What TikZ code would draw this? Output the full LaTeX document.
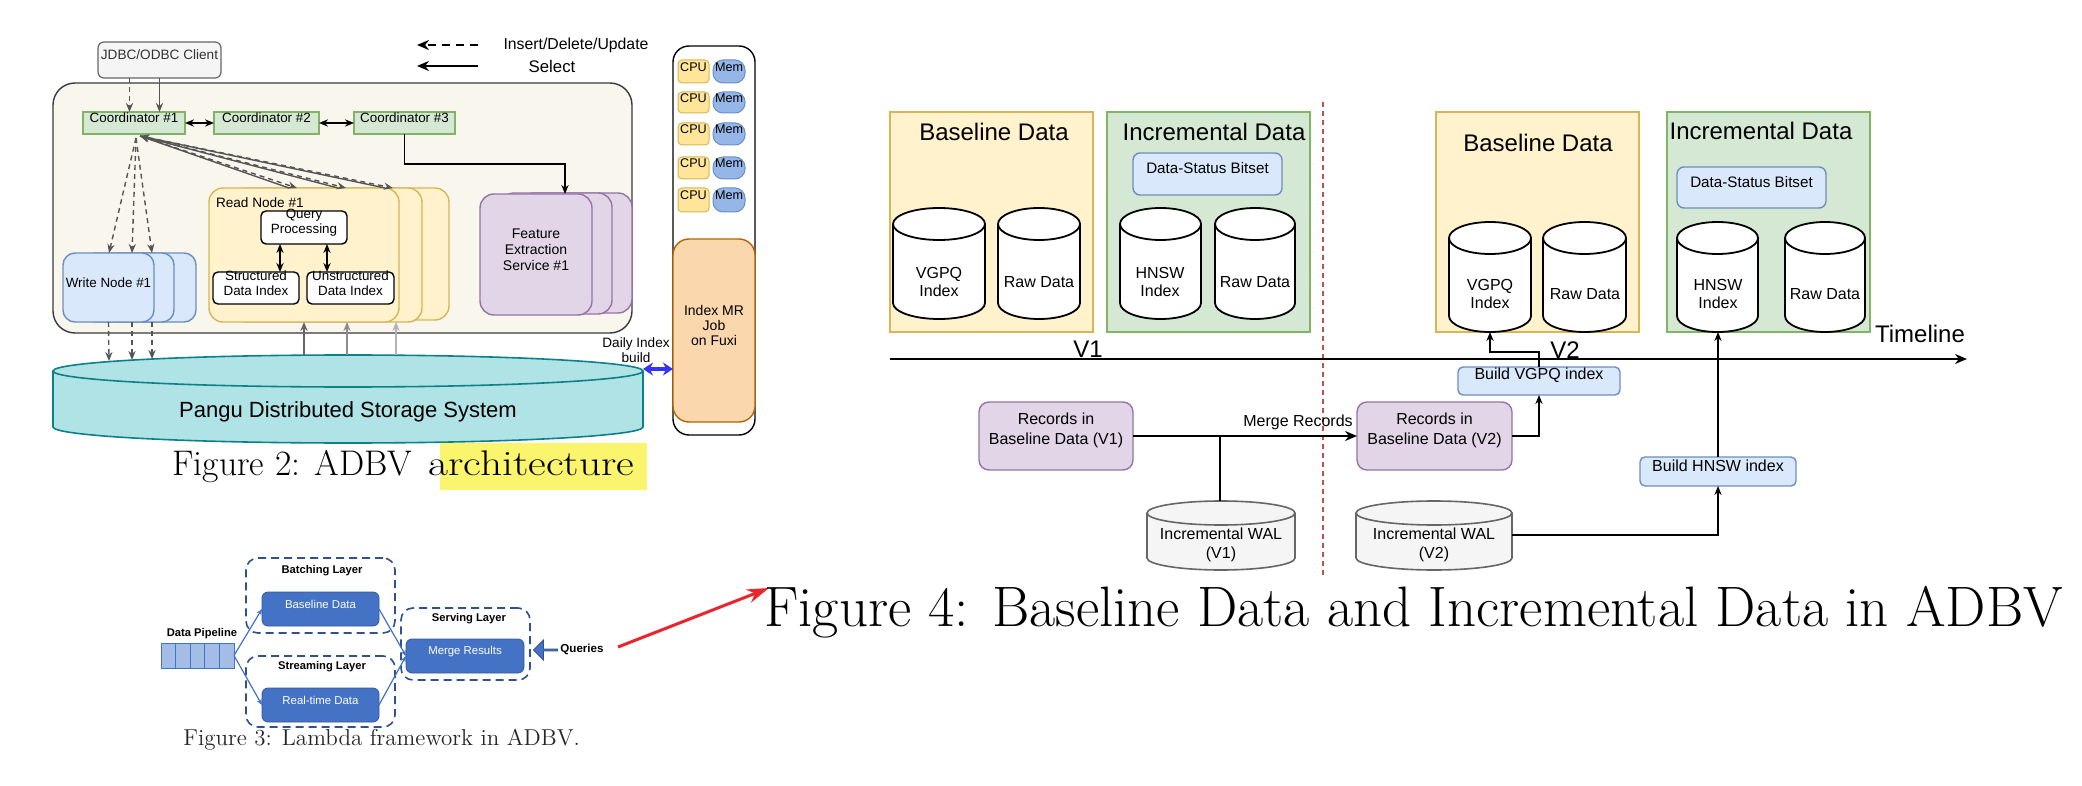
\documentclass[tikz,border=0pt]{standalone}
\usepackage{fontspec}
\newfontfamily\arialf{Liberation Sans}
\usetikzlibrary{arrows.meta,fit,shapes.arrows}
\definecolor{contF}{HTML}{F9F7ED}
\definecolor{contD}{HTML}{36393D}
\definecolor{grnF}{HTML}{D5E8D4}
\definecolor{grnD}{HTML}{82B366}
\definecolor{bluF}{HTML}{DAE8FC}
\definecolor{bluD}{HTML}{6C8EBF}
\definecolor{yelF}{HTML}{FFF2CC}
\definecolor{yelD}{HTML}{D6B656}
\definecolor{purF}{HTML}{E1D5E7}
\definecolor{purD}{HTML}{9673A6}
\definecolor{panF}{HTML}{B0E3E6}
\definecolor{panD}{HTML}{0E8088}
\definecolor{cpuF}{HTML}{FFE599}
\definecolor{memF}{HTML}{94B6E8}
\definecolor{orF}{HTML}{FAD7AC}
\definecolor{orD}{HTML}{B46504}
\definecolor{hlY}{HTML}{FBF46D}
\definecolor{gryF}{HTML}{F5F5F5}
\definecolor{gryD}{HTML}{666666}
\definecolor{lnG}{HTML}{555555}
\definecolor{lamB}{HTML}{4472C4}
\definecolor{lamD}{HTML}{2F528F}
\definecolor{pipF}{HTML}{A4BDE6}
\definecolor{redA}{HTML}{E8262C}
\definecolor{divR}{HTML}{B85450}
\definecolor{dblue}{HTML}{3333FF}
\newcommand\mkbox[7]{\node[#2,fit={(#3,#4) (#5,#6)}] (#1) {#7};}
\newcommand\mkcyl[6]{%
  \pgfmathsetlengthmacro\cylrx{(#3-#1)/4*1pt}%
  \pgfmathsetlengthmacro\cylry{(#5)/2*1pt}%
  \path[#6] (#1,#2+#5) -- (#1,#4-#5) arc[start angle=180,end angle=360,x radius=\cylrx,y radius=\cylry] -- (#3,#2+#5) arc[start angle=0,end angle=180,x radius=\cylrx,y radius=\cylry] -- cycle;
  \path[#6,fill=none] (#1,#2+#5) arc[start angle=180,end angle=360,x radius=\cylrx,y radius=\cylry];
}
\begin{document}
\begin{tikzpicture}[x=0.5pt,y=-0.5pt,
  base/.style={inner sep=0pt,outer sep=0pt,align=center},
  ft/.style 2 args={font=\arialf\fontsize{#1}{#2}\selectfont},
  ftb/.style 2 args={font=\arialf\bfseries\fontsize{#1}{#2}\selectfont},
  contst/.style={base,draw=contD,fill=contF,line width=0.7pt,rounded corners=11pt},
  jdbcst/.style={base,draw=gryD,fill=gryF,line width=0.6pt,rounded corners=3pt,ft={6.8}{8},text=black!80},
  coordst/.style={base,draw=grnD,fill=grnF,line width=0.8pt,ft={6.7}{8}},
  writest/.style={base,draw=bluD,fill=bluF,line width=0.7pt,rounded corners=6pt,ft={6.7}{8}},
  readst/.style={base,draw=yelD,fill=yelF,line width=0.7pt,rounded corners=7pt,ft={6.7}{8}},
  fesst/.style={base,draw=purD,fill=purF,line width=0.7pt,rounded corners=7pt,ft={7}{7.8}},
  wbox/.style={base,draw=black,fill=white,line width=0.7pt,rounded corners=2.5pt,ft={6.7}{7.4}},
  srvst/.style={base,draw=black,fill=white,line width=0.7pt,rounded corners=8pt},
  cpust/.style={base,draw=yelD,fill=cpuF,line width=0.5pt,rounded corners=2pt,ft={6.3}{7}},
  memst/.style={base,draw=bluD,fill=memF,line width=0.5pt,rounded corners=5pt,ft={6.3}{7}},
  imrst/.style={base,draw=orD,fill=orF,line width=0.7pt,rounded corners=8pt,ft={7}{7.6}},
  pangust/.style={draw=panD,fill=panF,line width=0.8pt},
  lbl/.style={base,ft={6.8}{7.6}},
  gline/.style={draw=lnG,line width=0.7pt},
  gdash/.style={gline,dash pattern=on 2.5pt off 2pt},
  myarr/.style={-{Stealth[length=4.5pt,width=3.6pt]}},
  dbl/.style={{Stealth[length=4.5pt,width=3.6pt]}-{Stealth[length=4.5pt,width=3.6pt]}},
  legarr/.style={-{Stealth[length=6pt,width=5pt]},line width=0.9pt},
  layerst/.style={base,draw=lamD,dash pattern=on 4pt off 2.5pt,line width=0.8pt,rounded corners=6pt},
  lbox/.style={base,fill=lamB,draw=lamB!80!black,line width=0.4pt,rounded corners=3pt,text=white,ft={5.7}{7}},
  pipest/.style={base,fill=pipF,draw=lamB,line width=0.5pt},
  lline/.style={draw=lamB,line width=0.6pt},
  ltxt/.style={base,ftb={5.6}{7}},
  basest/.style={base,draw=yelD,fill=yelF,line width=0.7pt},
  incst/.style={base,draw=grnD,fill=grnF,line width=0.7pt},
  dsbst/.style={base,draw=bluD,fill=bluF,line width=0.7pt,rounded corners=3.5pt,ft={7.6}{9}},
  cyl4/.style={draw=black,fill=white,line width=0.9pt},
  walst/.style={draw=gryD,fill=gryF,line width=0.8pt},
  recst/.style={base,draw=purD,fill=purF,line width=0.7pt,rounded corners=5pt,ft={8}{10}},
  bldst/.style={base,draw=bluD,fill=bluF,line width=0.7pt,rounded corners=2.5pt,ft={8}{9.6}},
  ttl/.style={base,ft={12}{14}},
  ctext/.style={base,ft={8}{9.4}},
  bline/.style={draw=black,line width=0.7pt},
]
\useasboundingbox (0,0) rectangle (2082,786);
\fill[white] (0,0) rectangle (2082,786);

% ================= Figure 2 =================
\mkbox{cont}{contst}{53}{83}{632}{333}{}
\mkbox{jdbc}{jdbcst}{98}{42}{221}{78}{JDBC/ODBC Client}
% legend
\coordinate (lg1s) at (478,45); \coordinate (lg1e) at (417,45);
\coordinate (lg2s) at (478,66); \coordinate (lg2e) at (417,66);
\draw[legarr,dash pattern=on 4pt off 3pt] (lg1s) -- (lg1e);
\draw[legarr] (lg2s) -- (lg2e);
\node[base,ft={7.9}{9}] (lgt1) at (576,45) {Insert/Delete/Update};
\node[base,ft={8.4}{9}] (lgt2) at (552,66) {Select};
% coordinators
\mkbox{c1}{coordst}{83}{112}{185}{134}{Coordinator \#1}
\mkbox{c2}{coordst}{214}{112}{319}{134}{Coordinator \#2}
\mkbox{c3}{coordst}{354}{112}{455}{134}{Coordinator \#3}
\draw[bline,dbl] (c1.east) -- (c2.west);
\draw[bline,dbl] (c2.east) -- (c3.west);
\draw[gline,myarr] (jdbc.south) -- (jdbc.south |- c1.north);
\draw[gdash,myarr] ([xshift=-15pt]jdbc.south) -- ([xshift=-15pt]jdbc.south |- c1.north);
% write nodes
\mkbox{wn3}{writest}{105}{253}{196}{322}{}
\mkbox{wn2}{writest}{83}{253}{174}{322}{}
\mkbox{wn1}{writest}{63}{253}{154}{322}{Write Node \#1}
% read nodes
\mkbox{rn3}{readst}{259}{188}{449}{320}{}
\mkbox{rn2}{readst}{232}{188}{422}{322}{}
\mkbox{rn1}{readst}{209}{188}{399}{322}{}
\node[base,ft={6.8}{8},anchor=west] (rnl) at (216,203) {Read Node \#1};
\mkbox{qp}{wbox}{261}{211}{347}{244}{Query\\Processing}
\mkbox{sdi}{wbox}{213}{272}{299}{304}{Structured\\Data Index}
\mkbox{udi}{wbox}{307}{272}{394}{304}{Unstructured\\Data Index}
\draw[bline,dbl] ([xshift=-12pt]qp.south) -- ([xshift=-12pt]qp.south |- sdi.north);
\draw[bline,dbl] ([xshift=11.5pt]qp.south) -- ([xshift=11.5pt]qp.south |- udi.north);
% feature extraction
\mkbox{fes3}{fesst}{520}{193}{632}{313}{}
\mkbox{fes2}{fesst}{500}{193}{612}{314}{}
\mkbox{fes1}{fesst}{480}{194}{592}{315}{Feature\\Extraction\\Service \#1}
\draw[bline,line width=0.9pt,myarr] (c3.south) -- ++(0,30) -| ([xshift=14.5pt]fes1.north);
% coordinator 1 fan-out
\coordinate (c1o) at (140,136);
\coordinate (c1p) at (136,138);
\coordinate (rt1) at (297,188); \coordinate (rt2) at (346,188); \coordinate (rt3) at (393,188);
\coordinate (wt1) at (109,253); \coordinate (wt2) at (132,253); \coordinate (wt3) at (152,253);
\foreach \t in {rt1,rt2,rt3}{
  \draw[gdash,myarr] (c1o) -- (\t);
  \draw[gline,myarr] ([xshift=-4pt]\t) -- (c1o);
}
\foreach \t in {wt1,wt2,wt3}{\draw[gdash,myarr] (c1p) -- (\t);}
% server column
\mkbox{srv}{srvst}{673}{46}{755}{435}{}
\mkbox{cpu1}{cpust}{678}{60}{709}{83}{CPU}   \mkbox{mem1}{memst}{713}{60}{745}{83}{Mem}
\mkbox{cpu2}{cpust}{678}{92}{709}{113}{CPU}  \mkbox{mem2}{memst}{713}{92}{745}{113}{Mem}
\mkbox{cpu3}{cpust}{678}{123}{709}{145}{CPU} \mkbox{mem3}{memst}{713}{123}{745}{145}{Mem}
\mkbox{cpu4}{cpust}{678}{157}{709}{179}{CPU} \mkbox{mem4}{memst}{713}{157}{745}{179}{Mem}
\mkbox{cpu5}{cpust}{678}{188}{709}{212}{CPU} \mkbox{mem5}{memst}{713}{188}{745}{212}{Mem}
\mkbox{imr}{imrst}{673}{239}{755}{422}{Index MR\\Job\\on Fuxi}
% Pangu
\mkcyl{53}{355}{643}{443}{16}{pangust}
\node[base,ft={11}{13}] (pangu) at (348,412) {Pangu Distributed Storage System};
\coordinate (pw1) at (109,361); \coordinate (pw2) at (132,360); \coordinate (pw3) at (152,359);
\coordinate (pr1) at (304,355); \coordinate (pr2) at (347,355); \coordinate (pr3) at (396,355);
\coordinate (pe) at (643,369);
\draw[gdash,myarr] (wn1.south) -- (pw1);
\draw[gdash,myarr] (pw2 |- wn1.south) -- (pw2);
\draw[gdash,myarr] (pw3 |- wn1.south) -- (pw3);
\draw[draw=black!60,line width=0.6pt,myarr] (pr1) -- (pr1 |- rn1.south);
\draw[draw=black!45,line width=0.6pt,myarr] (pr2) -- (pr2 |- rn1.south);
\draw[draw=black!30,line width=0.6pt,myarr] (pr3) -- (pr3 |- rn1.south);
\draw[dblue,line width=1.6pt,{Stealth[length=5pt,width=6.5pt]}-{Stealth[length=5pt,width=6.5pt]}] (pe) -- (pe -| imr.west);
\node[lbl] (daily) at (636,350) {Daily Index\\build};
% caption 2
\mkbox{hl}{base,fill=hlY}{440}{443}{647}{490}{}
\node[anchor=base west,inner sep=0pt,font=\rmfamily\fontsize{17.8}{20}\selectfont] (cap2) at (172,475) {Figure 2: ADBV\hspace{2.5pt} \scalebox{1.22}[1]{architecture}};

% ================= Figure 3 =================
\node[ltxt] (dpl) at (202,634) {Data Pipeline};
\mkbox{p1}{pipest}{161}{643}{175.6}{668}{}
\mkbox{p2}{pipest}{175.6}{643}{190.2}{668}{}
\mkbox{p3}{pipest}{190.2}{643}{204.8}{668}{}
\mkbox{p4}{pipest}{204.8}{643}{219.4}{668}{}
\mkbox{p5}{pipest}{219.4}{643}{234}{668}{}
\mkbox{batch}{layerst}{246}{558}{395}{633}{}
\node[ltxt] (batcht) at (322,571) {Batching Layer};
\mkbox{bd}{lbox}{262}{592}{379}{626}{Baseline Data}
\mkbox{stream}{layerst}{246}{656}{395}{727}{}
\node[ltxt] (streamt) at (322,667) {Streaming Layer};
\mkbox{rt}{lbox}{262}{688}{379}{722}{Real-time Data}
\mkbox{serve}{layerst}{401}{608}{530}{680}{}
\node[ltxt] (servet) at (469,619) {Serving Layer};
\mkbox{mr}{lbox}{406}{639}{524}{673}{Merge Results}
\node[single arrow,shape border rotate=180,fill=lamB,draw=lamD,line width=0.4pt,minimum height=12pt,minimum width=10pt,single arrow head extend=2pt,inner sep=0pt] (qa) at (546,650) {};
\node[ltxt,ftb={5.8}{7}] (qt) at (582,649) {Queries};
\draw[lline,-{Stealth[length=3pt,width=2.5pt]}] (p5.east) -- (bd.west);
\draw[lline,-{Stealth[length=3pt,width=2.5pt]}] (p5.east) -- (rt.west);
\draw[lline,-{Stealth[length=3pt,width=2.5pt]}] (bd.east) -- (mr.west);
\draw[lline,-{Stealth[length=3pt,width=2.5pt]}] (rt.east) -- (mr.west);
\node[anchor=base west,inner sep=0pt,text=black!85,font=\rmfamily\fontsize{11.5}{13}\selectfont] (cap3) at (183,745) {Figure 3: Lambda framework in ADBV.};
\coordinate (ra1) at (618,647); \coordinate (ra2) at (769,588);
\draw[redA,line width=1.5pt,-{Stealth[length=11pt,width=7pt]}] (ra1) -- (ra2);

% ================= Figure 4 =================
\coordinate (div1) at (1323,102); \coordinate (div2) at (1323,577);
\draw[divR,line width=0.6pt,dash pattern=on 2.5pt off 2pt] (div1) -- (div2);
% V1 boxes
\mkbox{bb1}{basest}{890}{112}{1093}{332}{}
\node[ttl] (bb1t) at (994,132) {Baseline Data};
\mkbox{ib1}{incst}{1107}{112}{1310}{332}{}
\node[ttl] (ib1t) at (1214,132) {Incremental Data};
\mkbox{ds1}{dsbst}{1133}{153}{1282}{195}{Data-Status Bitset}
\mkcyl{893}{208}{985}{319}{16}{cyl4}
\node[ctext] (vg1) at (939,282) {VGPQ\\Index};
\mkcyl{998}{208}{1080}{319}{16}{cyl4}
\node[ctext] (rw1a) at (1039,282) {Raw Data};
\mkcyl{1120}{208}{1201}{319}{16}{cyl4}
\node[ctext] (hn1) at (1160,282) {HNSW\\Index};
\mkcyl{1215}{208}{1295}{319}{16}{cyl4}
\node[ctext] (rw1b) at (1255,282) {Raw Data};
% V2 boxes
\mkbox{bb2}{basest}{1436}{112}{1639}{332}{}
\node[ttl] (bb2t) at (1538,143) {Baseline Data};
\mkbox{ib2}{incst}{1667}{112}{1870}{332}{}
\node[ttl] (ib2t) at (1761,131) {Incremental Data};
\mkbox{ds2}{dsbst}{1677}{167}{1826}{208}{Data-Status Bitset}
\mkcyl{1449}{222}{1531}{332}{16}{cyl4}
\node[ctext] (vg2) at (1490,294) {VGPQ\\Index};
\mkcyl{1543}{222}{1626}{332}{16}{cyl4}
\node[ctext] (rw2a) at (1585,294) {Raw Data};
\mkcyl{1677}{222}{1758}{332}{16}{cyl4}
\node[ctext] (hn2) at (1718,294) {HNSW\\Index};
\mkcyl{1785}{222}{1865}{332}{16}{cyl4}
\node[ctext] (rw2b) at (1825,294) {Raw Data};
\coordinate (vg2b) at (1490,332);
\coordinate (hn2b) at (1718,332);
% timeline
\coordinate (tl1) at (890,359); \coordinate (tl2) at (1967,359);
\draw[black,line width=0.9pt,-{Stealth[length=6pt,width=5pt]}] (tl1) -- (tl2);
\node[ttl] (tlt) at (1920,334) {Timeline};
\node[ttl] (v1) at (1088,349) {V1};
\node[ttl] (v2) at (1565,350) {V2};
% records
\mkbox{r1}{recst}{979}{402}{1133}{470}{Records in\\Baseline Data (V1)}
\mkbox{r2}{recst}{1357}{402}{1512}{470}{Records in\\Baseline Data (V2)}
\draw[black,line width=1pt,-{Stealth[length=6pt,width=5pt]}] (r1.east) -- (r2.west);
\node[ctext] (mrg) at (1298,422) {Merge Records};
\mkcyl{1147}{501}{1295}{570}{12}{walst}
\node[ctext] (wal1) at (1221,545) {Incremental WAL\\(V1)};
\mkcyl{1356}{501}{1512}{570}{12}{walst}
\node[ctext] (wal2) at (1434,545) {Incremental WAL\\(V2)};
\coordinate (w1top) at (1220,501);
\coordinate (w2r) at (1512,535);
\draw[bline] (w1top) -- (w1top |- r1.east);
\mkbox{bv}{bldst}{1458}{367}{1620}{395}{Build VGPQ index}
\mkbox{bh}{bldst}{1640}{457}{1796}{486}{Build HNSW index}
\draw[bline,line width=0.9pt,myarr] (r2.east) -| (bv.south);
\draw[bline,myarr] (bv.north) -- ++(0,-15) -| (vg2b);
\draw[bline,myarr] (w2r) -| (bh.south);
\draw[bline,myarr] (bh.north) -- (hn2b);
\node[anchor=base west,inner sep=0pt,font=\rmfamily\fontsize{28.5}{32}\selectfont] (cap4) at (764,626) {Figure 4: Baseline Data and Incremental Data in ADBV};
\end{tikzpicture}
\end{document}
